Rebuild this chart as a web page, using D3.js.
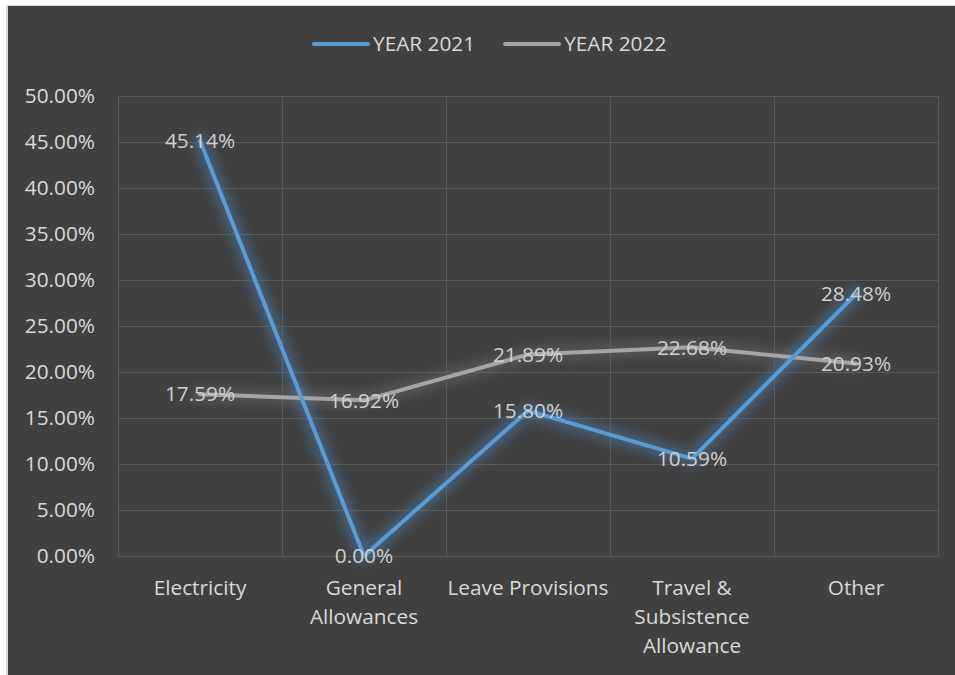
<!DOCTYPE html>
<html>
<head>
<meta charset="utf-8">
<script src="https://cdn.jsdelivr.net/npm/d3@7"></script>
<style>
  html, body { margin: 0; padding: 0; background: #ffffff; }
  svg { display: block; }
  text { font-family: "Open Sans", sans-serif; }
</style>
</head>
<body>
<svg id="chart" width="955" height="675"></svg>
<script>
// Expense categories and their share per year
const categories = ["Electricity", "General Allowances", "Leave Provisions", "Travel  & Subsistence Allowance", "Other"];
const year2021 = [45.14, 0.00, 15.80, 10.59, 28.48];
const year2022 = [17.59, 16.92, 21.89, 22.68, 20.93];
const seriesNames = ["YEAR 2021", "YEAR 2022"];
const yTicks = [0, 5, 10, 15, 20, 25, 30, 35, 40, 45, 50];

const FONT = '"Open Sans", sans-serif';
const FS = 20.8;

const svg = d3.select("#chart");
const W = 955, H = 675;

// Chart background with thin frame on the top and left edges
svg.append("rect").attr("x", 6).attr("y", 5).attr("width", W - 6).attr("height", H - 5)
  .attr("fill", "#d9d9d9");
svg.append("rect").attr("x", 8).attr("y", 6).attr("width", W - 8).attr("height", H - 6)
  .attr("fill", "#404040");

const plot = { left: 118, right: 938, top: 96, bottom: 556 };

const x = d3.scaleBand().domain(categories).range([plot.left, plot.right]).padding(0);
const y = d3.scaleLinear().domain([0, 50]).range([plot.bottom, plot.top]);

// Soft glow filter for the series lines
const defs = svg.append("defs");
const glow = defs.append("filter").attr("id", "glow")
  .attr("x", "-20%").attr("y", "-20%").attr("width", "140%").attr("height", "140%");
glow.append("feGaussianBlur").attr("stdDeviation", 5);

// Gridlines
const grid = svg.append("g");
grid.selectAll("line.h").data(yTicks).join("line")
  .attr("x1", plot.left).attr("x2", plot.right)
  .attr("y1", d => y(d) + 0.5).attr("y2", d => y(d) + 0.5)
  .attr("stroke", "#595959").attr("stroke-width", 1);
const vEdges = categories.map(c => x(c)).concat([plot.right]);
grid.selectAll("line.v").data(vEdges).join("line")
  .attr("x1", d => d + 0.5).attr("x2", d => d + 0.5)
  .attr("y1", plot.top).attr("y2", plot.bottom)
  .attr("stroke", "#595959").attr("stroke-width", 1);

// Y axis labels
const yAxis = d3.axisLeft(y).tickValues(yTicks).tickSize(0).tickPadding(0)
  .tickFormat(d => d.toFixed(2) + "%");
const yg = svg.append("g").attr("transform", `translate(${plot.left - 23},0)`).call(yAxis);
yg.select(".domain").remove();
yg.selectAll("text").attr("fill", "#d9d9d9").attr("font-size", FS).attr("font-family", FONT);

// X axis labels, wrapped within the category width
const xAxis = d3.axisBottom(x).tickSize(0).tickPadding(0);
const xg = svg.append("g").attr("transform", `translate(0,${plot.bottom + 32})`).call(xAxis);
xg.select(".domain").remove();
xg.selectAll("text").attr("fill", "#d9d9d9").attr("font-size", FS).attr("font-family", FONT)
  .attr("dy", null)
  .each(function (d) {
    const t = d3.select(this);
    const words = d.split(" ").filter(w => w.length);
    t.text(null);
    const maxW = x.bandwidth() + 6;
    let lines = [], cur = [];
    const probe = t.append("tspan");
    words.forEach(w => {
      probe.text(cur.concat([w]).join(" "));
      if (cur.length && probe.node().getComputedTextLength() > maxW) {
        lines.push(cur.join(" "));
        cur = [w];
      } else cur.push(w);
    });
    lines.push(cur.join(" "));
    probe.remove();
    lines.forEach((ln, i) => {
      t.append("tspan").attr("x", 0).attr("y", i * 29).attr("dy", "0.35em").text(ln);
    });
  });

// Series lines
const series = [
  { name: seriesNames[0], values: year2021, color: "#5b9bd5", glowColor: "#4a7fb0", glowOpacity: 0.45 },
  { name: seriesNames[1], values: year2022, color: "#a5a5a5", glowColor: "#6a6a6a", glowOpacity: 0.45 }
];
const cx = c => x(c) + x.bandwidth() / 2;
const line = d3.line().x((d, i) => cx(categories[i])).y(d => y(d));

// 2022 first so 2021 sits on top where they cross
const order = [series[1], series[0]];
const lg = svg.append("g");
order.forEach(s => {
  lg.append("path").datum(s.values).attr("d", line)
    .attr("fill", "none").attr("stroke", s.glowColor).attr("stroke-opacity", s.glowOpacity)
    .attr("stroke-width", 16).attr("stroke-linejoin", "round").attr("stroke-linecap", "round")
    .attr("filter", "url(#glow)");
});
order.forEach(s => {
  lg.append("path").datum(s.values).attr("d", line)
    .attr("fill", "none").attr("stroke", s.color).attr("stroke-width", 4)
    .attr("stroke-linejoin", "round").attr("stroke-linecap", "round");
});

// Data labels centred on each point
const labels = svg.append("g");
series.forEach(s => {
  labels.selectAll(null).data(s.values).join("text")
    .attr("x", (d, i) => cx(categories[i]))
    .attr("y", d => y(d))
    .attr("dy", "0.35em")
    .attr("text-anchor", "middle")
    .attr("fill", "#d0d0d0").attr("font-size", FS).attr("font-family", FONT)
    .text(d => d.toFixed(2) + "%");
});

// Legend
const legend = svg.append("g").attr("transform", "translate(314,44)");
let lx = 0;
series.forEach(s => {
  const g = legend.append("g").attr("transform", `translate(${lx},0)`);
  g.append("line").attr("x1", 0).attr("x2", 54).attr("y1", 0).attr("y2", 0)
    .attr("stroke", s.color).attr("stroke-width", 4).attr("stroke-linecap", "round");
  const t = g.append("text").attr("x", 59).attr("y", 0).attr("dy", "0.35em")
    .attr("fill", "#d9d9d9").attr("font-size", FS).attr("font-family", FONT).text(s.name);
  lx += 59 + t.node().getComputedTextLength() + 30;
});
</script>
</body>
</html>
